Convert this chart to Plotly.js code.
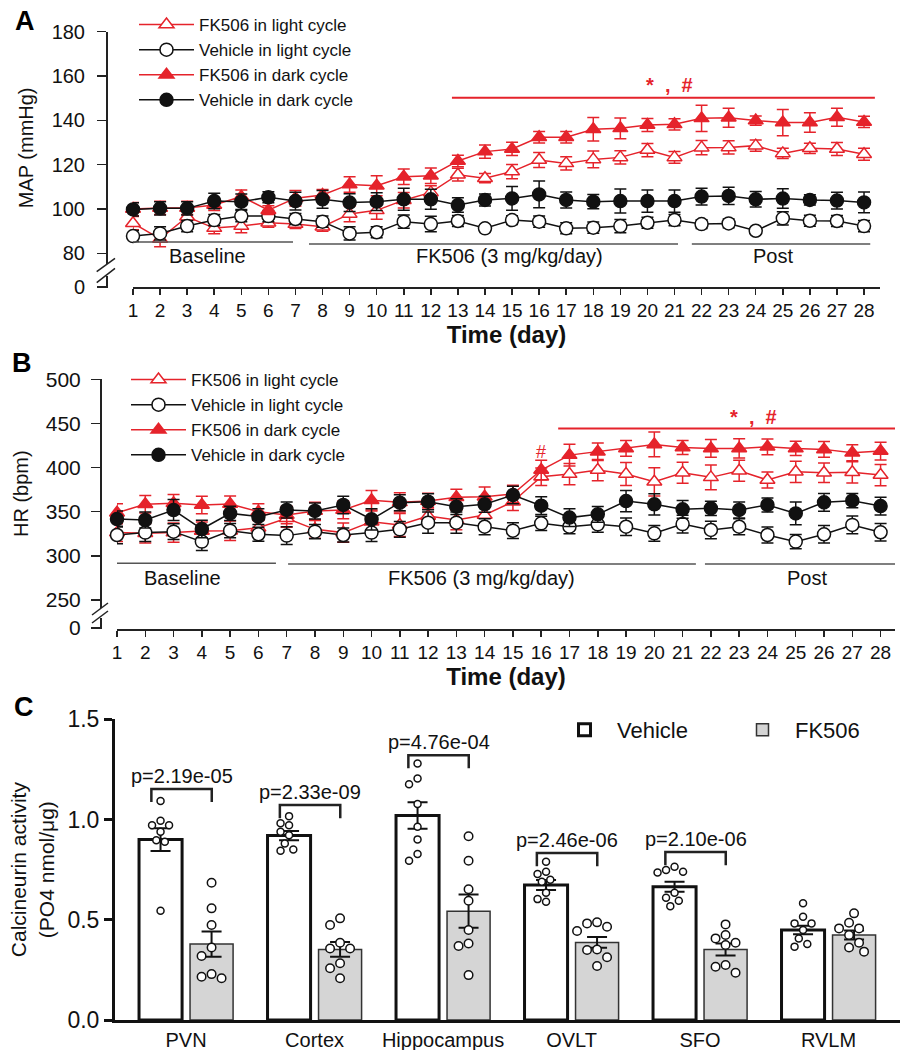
<!DOCTYPE html>
<html><head><meta charset="utf-8">
<script src="https://cdn.plot.ly/plotly-3.0.1.min.js"></script>
<style>html,body{margin:0;padding:0;background:#fff}#chart{width:910px;height:1050px}</style>
</head><body><div id="chart"></div>
<script>
// ---------------- DATA ----------------
const days = [1,2,3,4,5,6,7,8,9,10,11,12,13,14,15,16,17,18,19,20,21,22,23,24,25,26,27,28];
const seriesNames = ['FK506 in light cycle','Vehicle in light cycle','FK506 in dark cycle','Vehicle in dark cycle'];

// Panel A: MAP (mmHg)
const mapFkLight = [93.6,86.5,96.5,91.4,92.3,93.8,93.2,92,97.8,99.4,104,107.5,115.5,113.9,116.9,122.1,120.6,122.4,123.3,126.6,123.3,127.7,127.8,128.6,125.1,127.4,127.1,124.7];
const mapFkLightErr = [3,3.5,3,2.5,3,2,2,2,3.5,4,3.5,3,2.9,2.1,3.2,3.4,3,3.8,3,3,2.6,3.2,3,2.5,2.3,2.3,2.9,2.7];
const mapVehLight = [87.8,89,92.3,95,96.8,96.8,95.5,94.3,89,89.5,94.3,93.2,94.6,91.3,95,94.3,91.3,91.6,92.3,93.8,95,93.2,93.5,90.2,95.8,94.7,94.6,92.3];
const mapVehLightErr = [2.5,3,2.5,2.5,2.5,2.5,2.5,2.5,3,2.5,3,3.5,2.5,1.5,2,2.5,2.5,2.5,3,2.5,2.5,2,2,1,3,2.5,2.5,2.5];
const mapFkDark = [100,100.5,100.5,101.8,105.6,99.5,104.9,106.3,111.1,110.5,114.6,115,121.7,125.9,127.1,132.4,132.4,136,136.4,137.9,138.2,140.9,141.2,139.9,139,139,141.4,139.3];
const mapFkDarkErr = [3,3,3,2.5,3,2,3.5,2.5,3.5,4.5,3.5,3.5,2.6,3,3,2.6,2.6,5.3,4.7,2.9,2.5,5.9,4.3,2.1,5.9,4.4,4.1,2.5];
const mapVehDark = [99.8,100.3,100.3,103.6,103.3,105.3,103.6,104.4,102.9,103.3,104.4,104.4,101.8,104.1,104.8,106.6,104.1,103.3,103.6,103.6,103.6,105.6,105.9,104.4,104.7,104.1,103.8,103];
const mapVehDarkErr = [3,3,3,3.5,3.5,2.5,4,4,4,4,5,4.5,3.3,2.7,5.4,6,3.6,3.2,5.4,5,5,3.8,3.9,3.5,4.4,2.3,3.8,4.7];

// Panel B: HR (bpm)
const hrFkLight = [326.3,325.5,326.3,328.2,328.5,331.9,342.5,330,326.3,338.7,335,345.1,340.6,346.3,361.3,389.6,392.6,397.2,392.6,383.9,394.1,388.9,396.4,385.9,395.2,394.1,394.6,391.5];
const hrFkLightErr = [10,11,11,10,11,8,10,10,11,12,13,10,11,10,10,10,12,12,13,16,12,14,12,9,12,11,12,12];
const hrVehLight = [323.6,326.3,327.4,316.1,328.5,324.4,322.9,327.4,323.6,326.3,330,337.6,337.6,333,328.5,336.8,333,335.7,333,325.5,336,329.3,333,323.6,316.1,324.4,335,326.7];
const hrVehLightErr = [10,10,9,10,8,8,10,8,8,10,9,12,12,9,9,8,8,9,10,9,10,10,9,9,8,10,10,10];
const hrFkDark = [348.9,358.4,359.5,357.6,358.7,350,346.3,350.8,352,363,360.6,362,366.5,367,370,397.2,414.1,417.9,421.7,426.2,422.8,421.7,421.7,423.5,421.7,420.6,416.8,418.7];
const hrFkDarkErr = [10,10,10,10,9,9,10,10,10,11,11,9,9,11,10,11,12.4,10,9,14,8,10,11,9,8,9,9,10];
const hrVehDark = [341.7,340.6,351.9,330.4,348.1,344.4,352,350.8,357.6,341.4,360.2,361.3,355.7,358.4,368.9,356.8,343.3,347,362,358.4,352.7,353.8,352,357.6,348.1,360.6,362.5,356.4];
const hrVehDarkErr = [9,9,12,10,8,9,9,9,10,12,9,9,9,9,10,10,10,9,12,12,10,8,9,8,13,10,8,10];

// Panel C: Calcineurin activity
const regions = ['PVN','Cortex','Hippocampus','OVLT','SFO','RVLM'];
const vehMean = [0.90,0.92,1.02,0.673,0.665,0.449];
const vehSem  = [0.057,0.023,0.066,0.025,0.025,0.021];
const fkMean  = [0.379,0.352,0.543,0.387,0.352,0.424];
const fkSem   = [0.063,0.037,0.083,0.027,0.030,0.022];
const vehPVN = [1.093,0.994,0.972,0.972,0.939,0.897,0.889,0.545];
const vehCortex = [1.017,0.982,0.972,0.939,0.922,0.881,0.851,0.844];
const vehHippo = [1.28,1.205,1.176,1.077,0.964,0.901,0.828,0.794];
const vehOVLT = [0.789,0.739,0.728,0.70,0.69,0.635,0.603,0.59];
const vehSFO = [0.764,0.748,0.739,0.736,0.635,0.61,0.595,0.568];
const vehRVLM = [0.582,0.515,0.482,0.482,0.449,0.407,0.379,0.366];
const fkPVN = [0.685,0.557,0.474,0.362,0.319,0.229,0.216,0.208];
const fkCortex = [0.507,0.474,0.385,0.357,0.357,0.283,0.258,0.208];
const fkHippo = [0.917,0.794,0.652,0.595,0.449,0.382,0.369,0.224];
const fkOVLT = [0.487,0.482,0.465,0.444,0.352,0.349,0.313,0.269];
const fkSFO = [0.477,0.424,0.407,0.385,0.374,0.274,0.266,0.236];
const fkRVLM = [0.532,0.485,0.457,0.457,0.424,0.385,0.362,0.341];
const pTexts = ['p=2.19e-05','p=2.33e-09','p=4.76e-04','p=2.46e-06','p=2.10e-06'];
const bracketTop = [1.152,1.072,1.321,0.8325,0.8375];

// ---------------- LAYOUT HELPERS ----------------
const W = 910, H = 1050;
const fx = p => p / W;
const fy = p => 1 - p / H;
const RED = '#e5232b';
const BLK = '#111111';
const AX = '#222222';
const FONT = 'Arial, "Liberation Sans", sans-serif';

function seriesTrace(x, y, err, name, color, symbol, filled, xa, ya, legend) {
  return {
    type: 'scatter', mode: 'lines+markers', x: x, y: y, name: name,
    xaxis: xa, yaxis: ya, legend: legend, cliponaxis: false,
    line: {color: color, width: 1.5},
    marker: {symbol: symbol, size: 13, color: filled ? color : '#ffffff', line: {color: color, width: 1.5}},
    error_y: {type: 'data', array: err, visible: true, color: color, thickness: 1.5, width: 6}
  };
}

const traces = [];
// Panel A
traces.push(seriesTrace(days, mapFkLight, mapFkLightErr, seriesNames[0], RED, 'triangle-up', false, 'x', 'y', 'legend'));
traces.push(seriesTrace(days, mapVehLight, mapVehLightErr, seriesNames[1], BLK, 'circle', false, 'x', 'y', 'legend'));
traces.push(seriesTrace(days, mapFkDark, mapFkDarkErr, seriesNames[2], RED, 'triangle-up', true, 'x', 'y', 'legend'));
traces.push(seriesTrace(days, mapVehDark, mapVehDarkErr, seriesNames[3], BLK, 'circle', true, 'x', 'y', 'legend'));
// Panel B
traces.push(seriesTrace(days, hrFkLight, hrFkLightErr, seriesNames[0], RED, 'triangle-up', false, 'x3', 'y3', 'legend2'));
traces.push(seriesTrace(days, hrVehLight, hrVehLightErr, seriesNames[1], BLK, 'circle', false, 'x3', 'y3', 'legend2'));
traces.push(seriesTrace(days, hrFkDark, hrFkDarkErr, seriesNames[2], RED, 'triangle-up', true, 'x3', 'y3', 'legend2'));
traces.push(seriesTrace(days, hrVehDark, hrVehDarkErr, seriesNames[3], BLK, 'circle', true, 'x3', 'y3', 'legend2'));
// empty traces so that the short "0" segments of the broken y axes are drawn
traces.push({type: 'scatter', x: [], y: [], xaxis: 'x', yaxis: 'y2', showlegend: false, hoverinfo: 'skip'});
traces.push({type: 'scatter', x: [], y: [], xaxis: 'x3', yaxis: 'y4', showlegend: false, hoverinfo: 'skip'});

// Panel C geometry
const cDomX = [115, 900], cRangeX = [-0.553, 5.556];
const cDomY = [719.3, 1020], cRangeY = [0, 1.5];
const pxPerX = (cDomX[1] - cDomX[0]) / (cRangeX[1] - cRangeX[0]);
const pxPerY = (cDomY[1] - cDomY[0]) / (cRangeY[1] - cRangeY[0]);
const barW = 0.335, vehOff = -0.366, fkOff = 0.031;
const catIdx = regions.map((r, i) => i);

traces.push({type: 'bar', x: catIdx, y: vehMean, name: 'Vehicle', xaxis: 'x5', yaxis: 'y5', legend: 'legend3',
  width: barW, offset: vehOff, marker: {color: '#ffffff', line: {color: '#111', width: 3}},
  error_y: {type: 'data', array: vehSem, visible: true, color: '#111', thickness: 2, width: 10}});
traces.push({type: 'bar', x: catIdx, y: fkMean, name: 'FK506', xaxis: 'x5', yaxis: 'y5', legend: 'legend3',
  width: barW, offset: fkOff, marker: {color: '#d5d5d5', line: {color: '#333', width: 1.5}},
  error_y: {type: 'data', array: fkSem, visible: true, color: '#111', thickness: 2, width: 10}});

function swarm(vals, center, diam) {
  const step = diam + 1.5;
  const placed = [];
  const xs = [];
  vals.forEach(v => {
    const yp = v * pxPerY;
    const cands = [0];
    for (let k = 1; k < 12; k++) { cands.push(-k * step / 2, k * step / 2); }
    let chosen = 0;
    for (const c of cands) {
      if (placed.every(p => Math.hypot(p[0] - c, p[1] - yp) >= step)) { chosen = c; break; }
    }
    placed.push([chosen, yp]);
    xs.push(center + chosen / pxPerX);
  });
  return xs;
}
const vehGroups = [vehPVN, vehCortex, vehHippo, vehOVLT, vehSFO, vehRVLM];
const fkGroups = [fkPVN, fkCortex, fkHippo, fkOVLT, fkSFO, fkRVLM];
let vx = [], vy = [], kx = [], ky = [];
vehGroups.forEach((g, i) => { vx = vx.concat(swarm(g, i + vehOff + barW / 2, 7)); vy = vy.concat(g); });
fkGroups.forEach((g, i) => { kx = kx.concat(swarm(g, i + fkOff + barW / 2, 8.5)); ky = ky.concat(g); });
traces.push({type: 'scatter', mode: 'markers', x: vx, y: vy, xaxis: 'x5', yaxis: 'y5', showlegend: false, cliponaxis: false,
  marker: {symbol: 'circle', size: 7, color: '#ffffff', line: {color: '#111', width: 1.5}}, hoverinfo: 'y'});
traces.push({type: 'scatter', mode: 'markers', x: kx, y: ky, xaxis: 'x5', yaxis: 'y5', showlegend: false, cliponaxis: false,
  marker: {symbol: 'circle', size: 8.5, color: '#ffffff', line: {color: '#111', width: 1.5}}, hoverinfo: 'y'});

// ---------------- AXES ----------------
function lineAxis(extra) {
  return Object.assign({showline: true, linecolor: AX, linewidth: 1.5, ticks: 'outside', ticklen: 7, tickwidth: 1.5,
    tickcolor: AX, showgrid: false, zeroline: false, tickfont: {size: 20, color: '#111'}}, extra);
}

const layout = {
  width: W, height: H, margin: {l: 0, r: 0, t: 0, b: 0},
  paper_bgcolor: '#ffffff', plot_bgcolor: 'rgba(0,0,0,0)',
  font: {family: FONT, color: '#111'},
  showlegend: true, barmode: 'overlay',
  // Panel A
  xaxis: lineAxis({domain: [fx(133), fx(880)], range: [1, 28.59], anchor: 'free', position: fy(287),
    tickvals: days, ticklen: 6, tickfont: {size: 19, color: '#111'},
    title: {text: 'Time (day)', font: {size: 24, weight: 'bold'}, standoff: 0}}),
  yaxis: lineAxis({domain: [fy(264), fy(31.7)], range: [75.2, 180], anchor: 'free', position: fx(106),
    tickvals: [80, 100, 120, 140, 160, 180], ticklen: 9, ticklabelstandoff: 8,
    title: {text: 'MAP (mmHg)', font: {size: 20}, standoff: 11}}),
  yaxis2: lineAxis({domain: [fy(288), fy(276)], range: [-1, 11], anchor: 'free', position: fx(106),
    tickvals: [0], ticklen: 9, ticklabelstandoff: 8}),
  // Panel B
  xaxis3: lineAxis({domain: [fx(117), fx(895)], range: [1, 28.51], anchor: 'free', position: fy(629),
    tickvals: days, ticklen: 6, tickfont: {size: 19, color: '#111'},
    title: {text: 'Time (day)', font: {size: 24, weight: 'bold'}, standoff: 0}}),
  yaxis3: lineAxis({domain: [fy(608), fy(379.3)], range: [240.9, 500], anchor: 'free', position: fx(100),
    tickvals: [250, 300, 350, 400, 450, 500], ticklen: 9, ticklabelstandoff: 6, tickfont: {size: 21, color: '#111'},
    title: {text: 'HR (bpm)', font: {size: 20}, standoff: 10}}),
  yaxis4: lineAxis({domain: [fy(629), fy(618)], range: [-1, 10], anchor: 'free', position: fx(100),
    tickvals: [0], ticklen: 9, ticklabelstandoff: 6, tickfont: {size: 21, color: '#111'}}),
  // Panel C
  xaxis5: {domain: [fx(cDomX[0]), fx(cDomX[1])], range: cRangeX, anchor: 'y5', showline: true, linecolor: '#111', linewidth: 3,
    ticks: '', tickvals: catIdx, ticktext: regions, showgrid: false, zeroline: false, tickfont: {size: 20, color: '#111'}},
  yaxis5: {domain: [fy(cDomY[1]), fy(cDomY[0])], range: cRangeY, anchor: 'x5', showline: true, linecolor: '#111', linewidth: 3,
    ticks: 'outside', ticklen: 8, tickwidth: 3, tickcolor: '#111', tickvals: [0, 0.5, 1, 1.5], tickformat: '.1f',
    showgrid: false, zeroline: false, tickfont: {size: 23, color: '#111'},
    title: {text: 'Calcineurin activity<br>(PO4 nmol/μg)', font: {size: 21}, standoff: 8}},
  legend: {x: fx(134), y: fy(7), xanchor: 'left', yanchor: 'top', bgcolor: 'rgba(0,0,0,0)',
    font: {size: 17, color: '#111'}, itemwidth: 55, tracegroupgap: 0},
  legend2: {x: fx(126), y: fy(362), xanchor: 'left', yanchor: 'top', bgcolor: 'rgba(0,0,0,0)',
    font: {size: 17, color: '#111'}, itemwidth: 55, tracegroupgap: 0},
  legend3: {x: fx(552), y: fy(709), xanchor: 'left', yanchor: 'top', orientation: 'h',
    bgcolor: 'rgba(0,0,0,0)', font: {size: 22, color: '#111'}, itemwidth: 55, entrywidth: 108, entrywidthmode: 'pixels'},
  shapes: [], annotations: []
};

// axis break marks
[[96.7, 271.7, 115, 258.3], [96.7, 282.7, 115, 268.3], [92, 623, 108, 611], [92, 615, 108, 603]].forEach(s => {
  layout.shapes.push({type: 'line', xref: 'paper', yref: 'paper', x0: fx(s[0]), y0: fy(s[1]), x1: fx(s[2]), y1: fy(s[3]),
    line: {color: AX, width: 1.5}});
});

// period lines and labels
function period(xa, ya, x0, x1, y, label, lx, ly) {
  layout.shapes.push({type: 'line', xref: xa, yref: ya, x0: x0, x1: x1, y0: y, y1: y, line: {color: '#555', width: 1.5}});
  layout.annotations.push({xref: xa, yref: ya, x: lx, y: ly, text: label, showarrow: false,
    font: {size: 20, color: '#111'}, xanchor: 'center', yanchor: 'middle'});
}
period('x', 'y', 0.63, 6.91, 85.1, 'Baseline', 3.76, 78.6);
period('x', 'y', 7.5, 21.13, 84.2, 'FK506 (3 mg/kg/day)', 14.89, 78.6);
period('x', 'y', 21.64, 28.23, 84.2, 'Post', 24.64, 78.6);
period('x3', 'y3', 0.5, 6.62, 291.6, 'Baseline', 3.33, 275);
period('x3', 'y3', 7.05, 21.47, 290.8, 'FK506 (3 mg/kg/day)', 13.9, 275);
period('x3', 'y3', 21.79, 28.51, 290.8, 'Post', 25.4, 275);

// significance
layout.shapes.push({type: 'line', xref: 'x', yref: 'y', x0: 12.78, x1: 28.4, y0: 150.2, y1: 150.2, line: {color: RED, width: 2}});
layout.annotations.push({xref: 'x', yref: 'y', x: 20.8, y: 156, text: '*  ,  #', showarrow: false,
  font: {size: 20, color: RED, weight: 'bold'}});
layout.shapes.push({type: 'line', xref: 'x3', yref: 'y3', x0: 16.6, x1: 28.51, y0: 444.3, y1: 444.3, line: {color: RED, width: 2}});
layout.annotations.push({xref: 'x3', yref: 'y3', x: 23.5, y: 457, text: '*  ,  #', showarrow: false,
  font: {size: 20, color: RED, weight: 'bold'}});
layout.annotations.push({xref: 'x3', yref: 'y3', x: 16, y: 418, text: '#', showarrow: false,
  font: {size: 18, color: RED}});

// panel letters
[['A', 25, 21], ['B', 22, 363], ['C', 24, 707]].forEach(l => {
  layout.annotations.push({xref: 'paper', yref: 'paper', x: fx(l[1]), y: fy(l[2]), text: '<b>' + l[0] + '</b>',
    showarrow: false, xanchor: 'center', yanchor: 'middle', font: {size: 27, color: '#000'}});
});

// p-value brackets
pTexts.forEach((t, i) => {
  const xl = i - 0.27, xr = i + 0.2, yt = bracketTop[i], yb = bracketTop[i] - 0.065;
  layout.shapes.push({type: 'path', xref: 'x5', yref: 'y5',
    path: `M ${xl},${yb} L ${xl},${yt} L ${xr},${yt} L ${xr},${yb}`, line: {color: '#222', width: 2.5}});
  layout.annotations.push({xref: 'x5', yref: 'y5', x: (xl + xr) / 2, y: yt + 0.065, text: t, showarrow: false,
    font: {size: 20, color: '#111'}, xanchor: 'center', yanchor: 'middle'});
});

Plotly.newPlot('chart', traces, layout, {displayModeBar: false, staticPlot: true});
</script></body></html>
